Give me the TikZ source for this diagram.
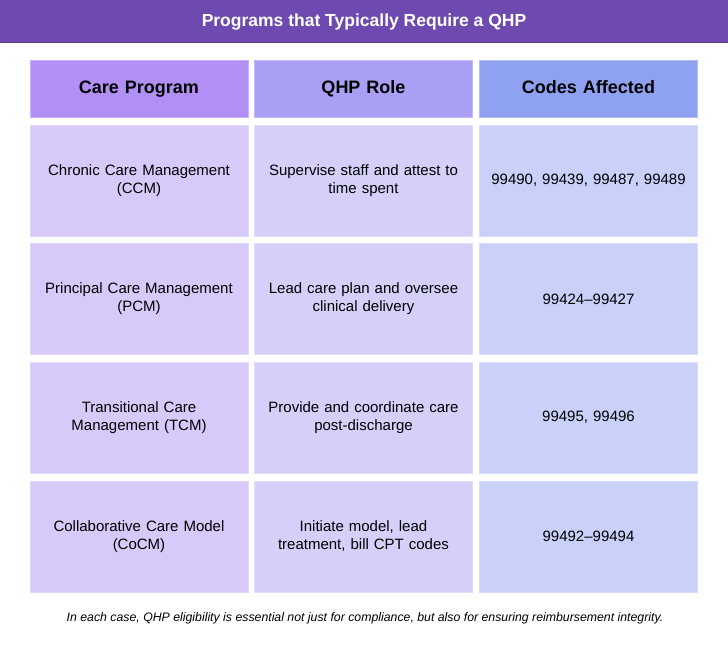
\documentclass[tikz,border=0pt]{standalone}
\usepackage{fontspec}
\setmainfont{Liberation Sans}
\definecolor{barc}{HTML}{6E4AB0}
\definecolor{hA}{HTML}{B18FF5}
\definecolor{hB}{HTML}{A9A0F6}
\definecolor{hC}{HTML}{8FA2F1}
\definecolor{bA}{HTML}{D7C9F9}
\definecolor{bB}{HTML}{D4D0FA}
\definecolor{bC}{HTML}{C9D0F9}
\begin{document}
\begin{tikzpicture}[x=1pt,y=-1pt,
  cell/.style={minimum width=218pt,inner sep=2pt,align=center,text width=210pt,font=\fontsize{15}{18}\selectfont},
  head/.style={cell,minimum height=57pt,text height=13pt,text depth=3pt,font=\fontsize{18}{21}\selectfont\bfseries},
  body/.style={cell,minimum height=111pt}]
\useasboundingbox (0,0) rectangle (728,650);
\fill[barc] (0,0) rectangle (728,43);
\draw[barc!85!black,line width=1pt] (0,43)--(728,43);
\node[text=white,font=\fontsize{17.5}{20}\selectfont\bfseries] (title) at (364,22) {Programs that Typically Require a QHP};
% header row
\node[head,fill=hA,draw=hA!70!white] (hprog) at (139,88.5) {Care Program};
\node[head,fill=hB,draw=hB!70!white] (hrole) at (363.5,88.5) {QHP Role};
\node[head,fill=hC,draw=hC!70!white] (hcode) at (588.5,88.5) {Codes Affected};
% rows
\foreach \y/\n/\p/\r/\c in {
  180.5/ccm/{Chronic Care Management\\(CCM)}/{Supervise staff and attest to\\time spent}/{99490, 99439, 99487, 99489},
  299/pcm/{Principal Care Management\\(PCM)}/{Lead care plan and oversee\\clinical delivery}/{99424–99427},
  417.5/tcm/{Transitional Care\\Management (TCM)}/{Provide and coordinate care\\post-discharge}/{99495, 99496},
  536.5/cocm/{Collaborative Care Model\\(CoCM)}/{Initiate model, lead\\treatment, bill CPT codes}/{99492–99494}}{
  \node[body,fill=bA,draw=bA!70!white] (\n prog) at (139,\y) {\p};
  \node[body,fill=bB,draw=bB!70!white] (\n role) at (363.5,\y) {\r};
  \node[body,fill=bC,draw=bC!70!white] (\n code) at (588.5,\y) {\c};
}
\node[font=\fontsize{12.3}{14}\selectfont\itshape] (note) at (365,618) {In each case, QHP eligibility is essential not just for compliance, but also for ensuring reimbursement integrity.};
\end{tikzpicture}
\end{document}
